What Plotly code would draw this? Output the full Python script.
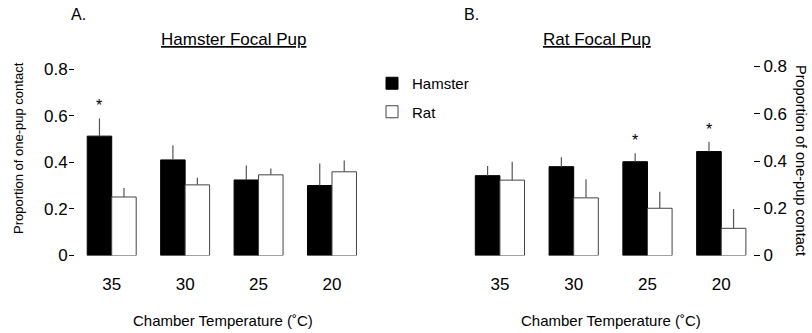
import plotly.graph_objects as go

temps = ["35", "30", "25", "20"]

# Panel A: Hamster focal pup
a_hamster = [0.512, 0.410, 0.324, 0.300]
a_hamster_err = [0.076, 0.063, 0.062, 0.095]
a_rat = [0.251, 0.303, 0.346, 0.359]
a_rat_err = [0.039, 0.030, 0.027, 0.048]
a_sig = [True, False, False, False]

# Panel B: Rat focal pup
b_hamster = [0.338, 0.376, 0.397, 0.440]
b_hamster_err = [0.041, 0.040, 0.036, 0.042]
b_rat = [0.319, 0.244, 0.200, 0.115]
b_rat_err = [0.078, 0.079, 0.070, 0.082]
b_sig = [False, False, True, True]

y_ticks = [0, 0.2, 0.4, 0.6, 0.8]
y_ticktext = ["0", "0.2", "0.4", "0.6", "0.8"]

FONT = "Liberation Sans, Arial, sans-serif"
W, H = 812, 333

def px_x(p):
    return p / W

def px_y(p):
    return 1 - p / H

err_color = "#555555"

def err(arr):
    return dict(type="data", array=arr, arrayminus=[0] * len(arr), symmetric=False,
                width=0, color=err_color, thickness=1.2)

fig = go.Figure()
fig.add_trace(go.Bar(x=temps, y=a_hamster, name="Hamster", legendgroup="h",
                     marker=dict(color="black", line=dict(color="black", width=1)),
                     error_y=err(a_hamster_err), xaxis="x", yaxis="y"))
fig.add_trace(go.Bar(x=temps, y=a_rat, name="Rat", legendgroup="r",
                     marker=dict(color="white", line=dict(color="#444444", width=1)),
                     error_y=err(a_rat_err), xaxis="x", yaxis="y"))
fig.add_trace(go.Bar(x=temps, y=b_hamster, name="Hamster", legendgroup="h", showlegend=False,
                     marker=dict(color="black", line=dict(color="black", width=1)),
                     error_y=err(b_hamster_err), xaxis="x2", yaxis="y2"))
fig.add_trace(go.Bar(x=temps, y=b_rat, name="Rat", legendgroup="r", showlegend=False,
                     marker=dict(color="white", line=dict(color="#444444", width=1)),
                     error_y=err(b_rat_err), xaxis="x2", yaxis="y2"))

annotations = []
offset = -0.1667
for i, s in enumerate(a_sig):
    if s:
        annotations.append(dict(x=i + offset, y=a_hamster[i] + a_hamster_err[i], xref="x", yref="y",
                                text="*", showarrow=False, yanchor="bottom", yshift=2,
                                font=dict(size=16, color="black", family=FONT)))
for i, s in enumerate(b_sig):
    if s:
        annotations.append(dict(x=i + offset, y=b_hamster[i] + b_hamster_err[i], xref="x2", yref="y2",
                                text="*", showarrow=False, yanchor="bottom", yshift=2,
                                font=dict(size=16, color="black", family=FONT)))

def txt(text, x, y, size, angle=0, underline=False, xanchor="center"):
    f = dict(size=size, color="black", family=FONT)
    if underline:
        f["lineposition"] = "under"
    return dict(text=text, x=px_x(x), y=px_y(y), xref="paper", yref="paper", showarrow=False,
                xanchor=xanchor, yanchor="middle", textangle=angle, font=f)

annotations += [
    txt("A.", 69, 15, 16, xanchor="left"),
    txt("B.", 462, 15, 16, xanchor="left"),
    txt("Hamster Focal Pup", 234, 39, 17, underline=True),
    txt("Rat Focal Pup", 597, 39, 17, underline=True),
    txt("Chamber Temperature (˚C)", 223, 320, 15),
    txt("Chamber Temperature (˚C)", 611, 320, 15),
    txt("Proportion of one-pup contact", 18, 148, 13, angle=-90),
    txt("Proportion of one-pup contact", 801, 160, 14.5, angle=90),
]

axis_common = dict(showline=False, showgrid=False, zeroline=False, automargin=False)

fig.update_layout(
    width=W, height=H,
    margin=dict(l=0, r=0, t=0, b=0, autoexpand=False),
    paper_bgcolor="white", plot_bgcolor="white",
    font=dict(family=FONT, color="black"),
    barmode="group", bargap=0.333, bargroupgap=0,
    xaxis=dict(domain=[px_x(75), px_x(368.7)], range=[-0.5, 3.5], type="category",
               ticks="", tickfont=dict(size=17), anchor="y", ticklabelstandoff=16, **axis_common),
    yaxis=dict(domain=[px_y(255.5), px_y(69)], range=[0, 0.8], tickvals=y_ticks, ticktext=y_ticktext,
               ticks="outside", ticklen=5, tickcolor="black", tickfont=dict(size=17), anchor="x",
               ticklabelstandoff=-2, **axis_common),
    xaxis2=dict(domain=[px_x(463), px_x(753)], range=[-0.5, 3.43], type="category",
                ticks="", tickfont=dict(size=17), anchor="y2", ticklabelstandoff=16, **axis_common),
    yaxis2=dict(domain=[px_y(255.5), px_y(66.5)], range=[0, 0.8], tickvals=y_ticks, ticktext=y_ticktext,
                ticks="outside", ticklen=6, tickcolor="black", tickfont=dict(size=17), side="right",
                anchor="x2", **axis_common),
    legend=dict(x=px_x(372), y=px_y(67), xanchor="left", yanchor="top", font=dict(size=15),
                bgcolor="rgba(0,0,0,0)", traceorder="grouped", tracegroupgap=6),
    annotations=annotations,
    showlegend=True,
)

post = "document.body.style.margin='0';document.body.style.padding='0';document.body.style.overflow='hidden';"
fig.write_html("out.html", post_script=post, config={"displayModeBar": False})
